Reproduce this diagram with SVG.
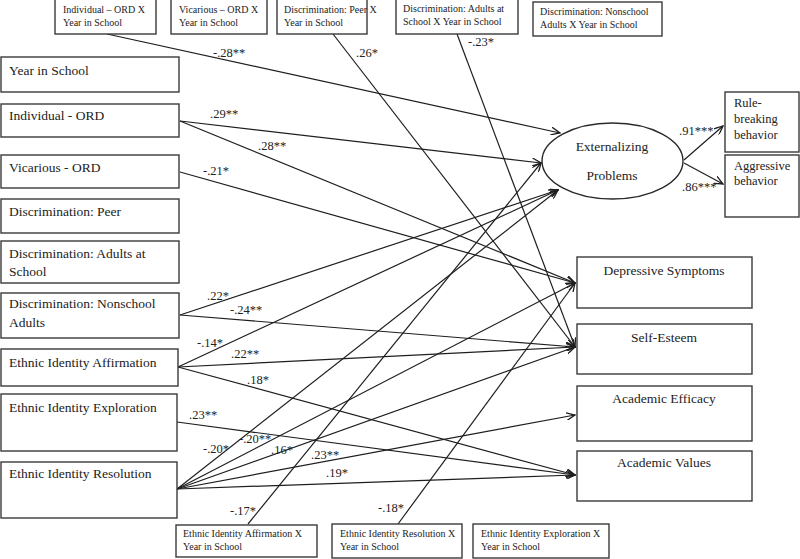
<svg xmlns="http://www.w3.org/2000/svg" width="800" height="559" viewBox="0 0 800 559" font-family="Liberation Serif, DejaVu Serif, serif">
<defs>
<marker id="arr" markerWidth="10" markerHeight="8" refX="9" refY="4" orient="auto" markerUnits="userSpaceOnUse">
<path d="M0,0 L9,4 L0,8" fill="none" stroke="#1e1e1e" stroke-width="1.3"/>
</marker>
</defs>
<style>
rect{fill:#fff;stroke:#3a3a3a;stroke-width:1.4}
ellipse{fill:#fff;stroke:#2a2a2a;stroke-width:1.4}
text{font-family:'Liberation Serif','DejaVu Serif',serif;fill:#222}
.s{font-size:10px}
.m{font-size:13.5px}
.r{font-size:12.5px}
.c{text-anchor:middle}
.lb{font-size:12.5px}
#connectors path{fill:none;stroke:#1e1e1e;stroke-width:1.2;marker-end:url(#arr)}
</style>
<rect x="0" y="0" width="800" height="559" style="fill:#fff;stroke:none"/>

<g id="connectors">
<path d="M107,34 L560,133"/>
<path d="M333,34 L575,347"/>
<path d="M457,34 L575,347"/>
<path d="M180,121 L541,163"/>
<path d="M180,121 L575,283"/>
<path d="M180,172 L575,283"/>
<path d="M180,315 L558,190"/>
<path d="M180,315 L575,347"/>
<path d="M178,367 L558,190"/>
<path d="M178,367 L575,347"/>
<path d="M178,367 L575,475"/>
<path d="M177,422 L575,475"/>
<path d="M177,489 L558,190"/>
<path d="M177,489 L575,283"/>
<path d="M177,489 L575,347"/>
<path d="M177,489 L575,415"/>
<path d="M177,489 L575,475"/>
<path d="M248,524 L541,163"/>
<path d="M398,524 L575,283"/>
<path d="M684,160 L723,126"/>
<path d="M684,163 L723,184"/>
</g>

<g id="edge-labels">
<text class="lb" x="213" y="57">-.28**</text>
<text class="lb" x="356" y="57">.26*</text>
<text class="lb" x="468" y="46">-.23*</text>
<text class="lb" x="210" y="118">.29**</text>
<text class="lb" x="258" y="150">.28**</text>
<text class="lb" x="203" y="175">-.21*</text>
<text class="lb" x="207" y="300">.22*</text>
<text class="lb" x="230" y="314">-.24**</text>
<text class="lb" x="197" y="347">-.14*</text>
<text class="lb" x="231" y="358">.22**</text>
<text class="lb" x="247" y="384">.18*</text>
<text class="lb" x="189" y="419">.23**</text>
<text class="lb" x="203" y="453">-.20*</text>
<text class="lb" x="239" y="443">-.20**</text>
<text class="lb" x="271" y="454">.16*</text>
<text class="lb" x="311" y="459">.23**</text>
<text class="lb" x="326" y="477">.19*</text>
<text class="lb" x="230" y="515">-.17*</text>
<text class="lb" x="378" y="512">-.18*</text>
<text class="lb" x="679" y="135">.91***</text>
<text class="lb" x="682" y="191">.86***</text>
</g>

<g id="n-ind-x"><rect x="55" y="-1" width="101" height="35"/><text class="s" x="63" y="13">Individual – ORD X</text><text class="s" x="63" y="26">Year in School</text></g>
<g id="n-vic-x"><rect x="171" y="-1" width="96" height="35"/><text class="s" x="179" y="13">Vicarious – ORD X</text><text class="s" x="179" y="26">Year in School</text></g>
<g id="n-peer-x"><rect x="277" y="-1" width="90" height="35"/><text class="s" x="284" y="13">Discrimination: Peer X</text><text class="s" x="284" y="26">Year in School</text></g>
<g id="n-adsch-x"><rect x="396" y="-1" width="122" height="35"/><text class="s" x="403" y="12">Discrimination: Adults at</text><text class="s" x="403" y="25">School X Year in School</text></g>
<g id="n-nonsch-x"><rect x="533" y="2" width="129" height="34"/><text class="s" x="540" y="15">Discrimination: Nonschool</text><text class="s" x="540" y="28">Adults X Year in School</text></g>

<g id="n-year"><rect x="1" y="57" width="178" height="35"/><text class="m" x="9" y="75">Year in School</text></g>
<g id="n-ind"><rect x="1" y="104" width="178" height="33"/><text class="m" x="9" y="120">Individual - ORD</text></g>
<g id="n-vic"><rect x="1" y="155" width="178" height="33"/><text class="m" x="9" y="172">Vicarious - ORD</text></g>
<g id="n-peer"><rect x="1" y="199" width="178" height="34"/><text class="m" x="9" y="216">Discrimination: Peer</text></g>
<g id="n-adsch"><rect x="1" y="241" width="178" height="42"/><text class="m" x="9" y="258">Discrimination: Adults at</text><text class="m" x="9" y="276">School</text></g>
<g id="n-nonsch"><rect x="1" y="293" width="178" height="45"/><text class="m" x="9" y="308">Discrimination: Nonschool</text><text class="m" x="9" y="327">Adults</text></g>
<g id="n-aff"><rect x="1" y="349" width="177" height="37"/><text class="m" x="9" y="367">Ethnic Identity Affirmation</text></g>
<g id="n-exp"><rect x="1" y="394" width="176" height="57"/><text class="m" x="9" y="412">Ethnic Identity Exploration</text></g>
<g id="n-res"><rect x="1" y="462" width="176" height="56"/><text class="m" x="9" y="478">Ethnic Identity Resolution</text></g>

<g id="n-ext"><ellipse cx="612.5" cy="161" rx="70.5" ry="38"/><text class="m c" x="612" y="151">Externalizing</text><text class="m c" x="612" y="180">Problems</text></g>
<g id="n-rule"><rect x="725" y="92" width="74" height="60"/><text class="r" x="734" y="107">Rule-</text><text class="r" x="734" y="123">breaking</text><text class="r" x="734" y="139">behavior</text></g>
<g id="n-agg"><rect x="725" y="155" width="74" height="62"/><text class="r" x="734" y="170">Aggressive</text><text class="r" x="734" y="185">behavior</text></g>

<g id="n-dep"><rect x="577" y="257" width="175" height="51"/><text class="m c" x="664" y="275">Depressive Symptoms</text></g>
<g id="n-se"><rect x="577" y="324" width="175" height="50"/><text class="m c" x="664" y="342">Self-Esteem</text></g>
<g id="n-ae"><rect x="577" y="386" width="175" height="55"/><text class="m c" x="664" y="403">Academic Efficacy</text></g>
<g id="n-av"><rect x="577" y="451" width="175" height="50"/><text class="m c" x="664" y="467">Academic Values</text></g>

<g id="n-aff-x"><rect x="176" y="525" width="141" height="32"/><text class="s" x="183" y="537">Ethnic Identity Affirmation X</text><text class="s" x="183" y="550">Year in School</text></g>
<g id="n-res-x"><rect x="332" y="524" width="130" height="34"/><text class="s" x="340" y="537">Ethnic Identity Resolution X</text><text class="s" x="340" y="550">Year in School</text></g>
<g id="n-exp-x"><rect x="473" y="524" width="136" height="34"/><text class="s" x="481" y="537">Ethnic Identity Exploration X</text><text class="s" x="481" y="550">Year in School</text></g>
</svg>
